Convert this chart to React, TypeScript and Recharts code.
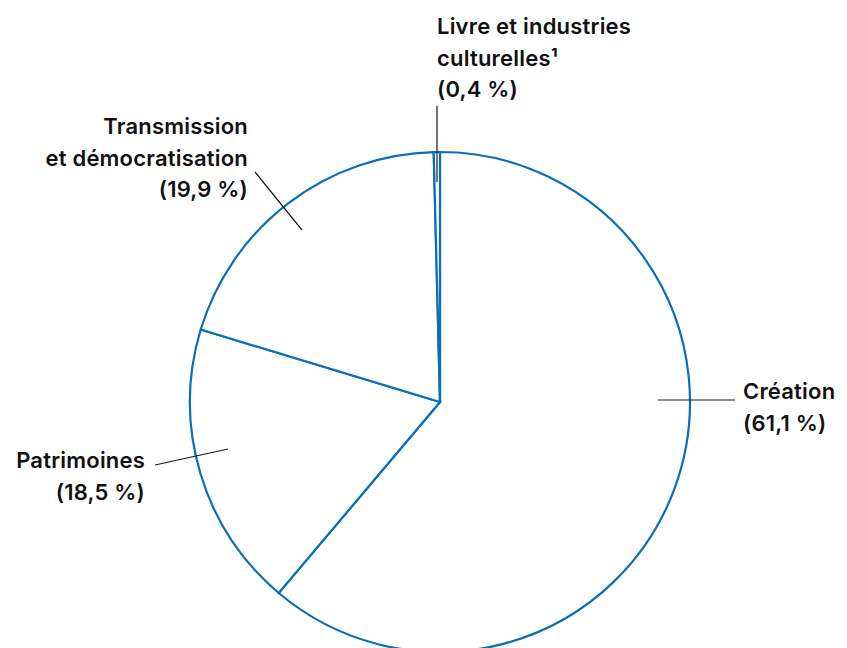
import React from "react";
import { PieChart, Pie, Cell } from "recharts";

const categories = ["Création", "Patrimoines", "Transmission et démocratisation", "Livre et industries culturelles¹"];
const values = [61.1, 18.5, 19.9, 0.4];
const labelLines = [
  ["Création", "(61,1 %)"],
  ["Patrimoines", "(18,5 %)"],
  ["Transmission", "et démocratisation", "(19,9 %)"],
  ["Livre et industries", "culturelles¹", "(0,4 %)"],
];

const data = categories.map((name, i) => ({ name, value: values[i] }));

// label layout, relative to pie centre
const layout = [
  { line: [218, -2, 295, -2], tx: 303, anchor: "start", y0: -3 },
  { line: [-212, 47, -285, 63], tx: -295, anchor: "end", y0: 66 },
  { line: [-138, -172, -185, -230], tx: -192, anchor: "end", y0: -268 },
  { line: [-3, -220, -3, -296], tx: -3, anchor: "start", y0: -368 },
];

const BLUE = "#0a6fba";
const FONT = "Inter, 'Noto Sans', sans-serif";

const renderLabel = (props: any) => {
  const { cx, cy, index } = props;
  const l = layout[index];
  const lines = labelLines[index];
  return (
    <g key={`lbl-${index}`}>
      <line
        x1={cx + l.line[0]}
        y1={cy + l.line[1]}
        x2={cx + l.line[2]}
        y2={cy + l.line[3]}
        stroke="#1a1a1a"
        strokeWidth={1.2}
      />
      <text
        x={cx + l.tx}
        y={cy + l.y0}
        textAnchor={l.anchor as any}
        fontFamily={FONT}
        fontSize={22}
        fontWeight={600}
        letterSpacing={0.2}
        fill="#111"
      >
        {lines.map((t, k) => (
          <tspan key={k} x={cx + l.tx} dy={k === 0 ? 0 : 31.5}>
            {t}
          </tspan>
        ))}
      </text>
    </g>
  );
};

export default function App() {
  return (
    <div style={{ position: "absolute", left: 0, top: 0, width: 847, height: 648, background: "#fff" }}>
      <PieChart width={847} height={648} margin={{ top: 0, right: 0, bottom: 0, left: 0 }}>
        <Pie
          data={data}
          dataKey="value"
          nameKey="name"
          cx={440}
          cy={402}
          innerRadius={0}
          outerRadius={250}
          startAngle={90}
          endAngle={-270}
          isAnimationActive={false}
          label={renderLabel}
          labelLine={false}
          stroke={BLUE}
          strokeWidth={2.2}
        >
          {data.map((d, i) => (
            <Cell key={i} fill="#ffffff" stroke={BLUE} strokeWidth={2.2} />
          ))}
        </Pie>
      </PieChart>
    </div>
  );
}
